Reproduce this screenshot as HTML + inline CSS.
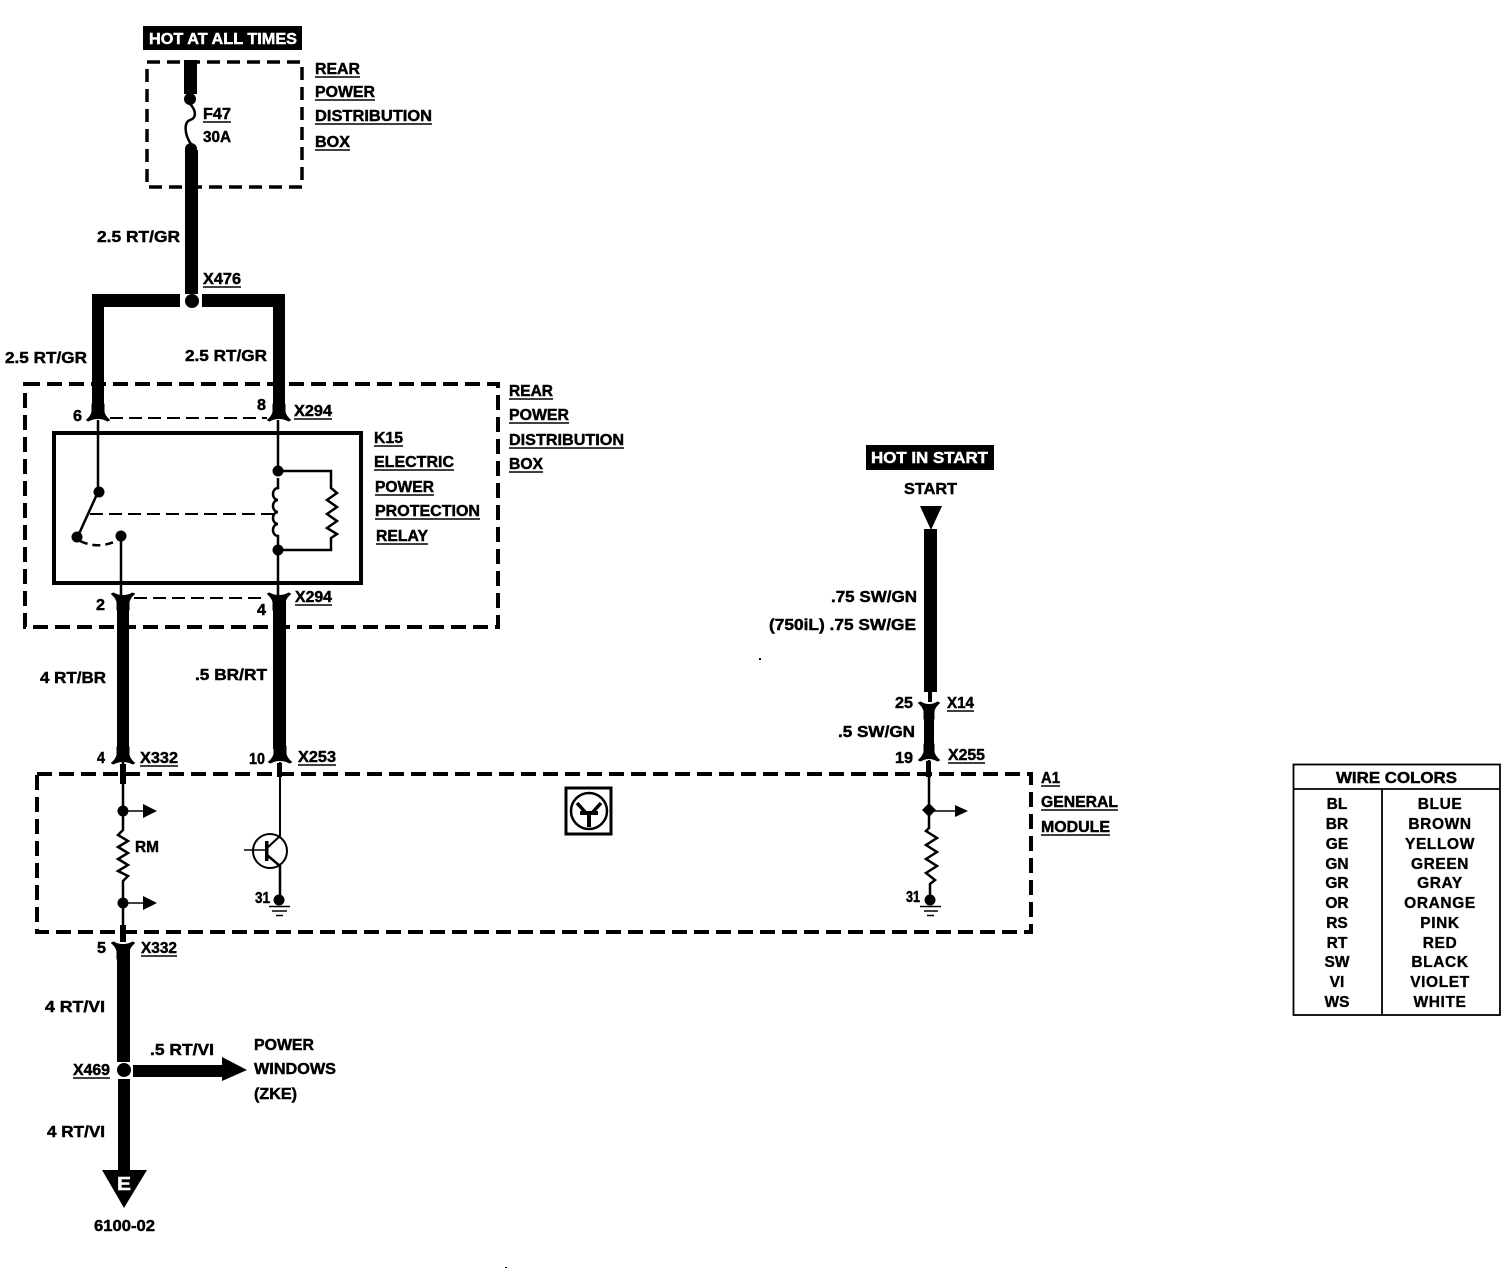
<!DOCTYPE html>
<html><head><meta charset="utf-8"><style>
html,body{margin:0;padding:0;background:#fff}
svg{display:block}
text{font-family:"Liberation Sans",sans-serif;font-weight:bold;font-size:15.5px;fill:#000;stroke:#000;stroke-width:.45}
text.w{fill:#fff;stroke:#fff}
.t text{text-anchor:middle;stroke-width:.35}
.c2 text{letter-spacing:.6px}
.u line{stroke:#000;stroke-width:1.6}
.l{fill:none;stroke:#000;stroke-width:2.5}
.d{fill:none;stroke:#000;stroke-width:4;stroke-dasharray:15 7}
.i{fill:none;stroke:#000;stroke-width:2;stroke-dasharray:13 6}
.k{stroke:#000;stroke-width:1;stroke-linejoin:round}
</style></head><body>
<svg width="1508" height="1280" viewBox="0 0 1508 1280" xmlns="http://www.w3.org/2000/svg">
<rect width="1508" height="1280" fill="#fff"/>

<!-- dashed boxes -->
<rect x="147" y="62" width="155" height="125" class="d" style="stroke-width:3.5;stroke-dasharray:13 7"/>
<rect x="25" y="384" width="473" height="243" class="d"/>
<rect x="37" y="774" width="994" height="158" class="d"/>

<!-- top feed -->
<rect x="143" y="26" width="159" height="24"/>
<text class="w" x="149" y="44" textLength="148" lengthAdjust="spacingAndGlyphs">HOT AT ALL TIMES</text>
<rect x="184" y="60" width="13" height="34"/>
<circle cx="190" cy="99" r="6"/>
<path class="l" d="M190 104C196 110 197 118 190 120C184 122 184 134 191 144"/>
<circle cx="191" cy="149" r="6"/>
<rect x="185" y="150" width="13" height="144"/>
<rect x="92" y="294" width="88" height="13"/>
<rect x="202" y="294" width="83" height="13"/>
<circle cx="192" cy="301" r="7"/>
<rect x="92" y="294" width="12" height="112"/>
<rect x="273" y="294" width="12" height="112"/>

<!-- connectors -->
<path class="k" transform="translate(98,418)" d="M-6-14V-6C-7-2-9 0-11.500 2L-9.500 3C-7 1.500-4 .5 0 .5S7 1.500 9.500 3L11.500 2C9 0 7-2 6-6V-14Z"/>
<path class="k" transform="translate(279,418)" d="M-6-14V-6C-7-2-9 0-11.500 2L-9.500 3C-7 1.500-4 .5 0 .5S7 1.500 9.500 3L11.500 2C9 0 7-2 6-6V-14Z"/>
<path class="k" transform="translate(123,596) scale(1,-1)" d="M-6-14V-6C-7-2-9 0-11.500 2L-9.500 3C-7 1.500-4 .5 0 .5S7 1.500 9.500 3L11.500 2C9 0 7-2 6-6V-14Z"/>
<path class="k" transform="translate(279,596) scale(1,-1)" d="M-6-14V-6C-7-2-9 0-11.500 2L-9.500 3C-7 1.500-4 .5 0 .5S7 1.500 9.500 3L11.500 2C9 0 7-2 6-6V-14Z"/>
<path class="k" transform="translate(123,761)" d="M-6-14V-6C-7-2-9 0-11.500 2L-9.500 3C-7 1.500-4 .5 0 .5S7 1.500 9.500 3L11.500 2C9 0 7-2 6-6V-14Z"/>
<path class="k" transform="translate(280,760)" d="M-6-14V-6C-7-2-9 0-11.500 2L-9.500 3C-7 1.500-4 .5 0 .5S7 1.500 9.500 3L11.500 2C9 0 7-2 6-6V-14Z"/>
<path class="k" transform="translate(123,945) scale(1,-1)" d="M-6-14V-6C-7-2-9 0-11.500 2L-9.500 3C-7 1.500-4 .5 0 .5S7 1.500 9.500 3L11.500 2C9 0 7-2 6-6V-14Z"/>
<path class="k" transform="translate(929,705) scale(1,-1)" d="M-5-14V-6C-6-2-8 0-10.500 2L-8.500 3C-6 1.500-3 .5 0 .5S6 1.500 8.500 3L10.500 2C8 0 6-2 5-6V-14Z"/>
<path class="k" transform="translate(929,758)" d="M-5-14V-6C-6-2-8 0-10.500 2L-8.500 3C-6 1.500-3 .5 0 .5S6 1.500 8.500 3L10.500 2C8 0 6-2 5-6V-14Z"/>

<!-- inner dashed links -->
<path class="i" d="M110 418H267"/>
<path class="i" d="M134 598H266"/>

<!-- relay -->
<rect x="54" y="433" width="307" height="150" fill="none" stroke="#000" stroke-width="4"/>
<path class="l" d="M98 420V490"/>
<circle cx="99" cy="492" r="5.5"/>
<path class="l" d="M98 492L78 536"/>
<circle cx="77" cy="537" r="5.5"/>
<path class="l" d="M80 541Q99 550 118 540" stroke-dasharray="8 5"/>
<circle cx="121" cy="536" r="5.5"/>
<path class="l" d="M121 536V595"/>
<path class="l" d="M278 420V470"/>
<circle cx="278" cy="471" r="5.5"/>
<path class="l" d="M278 471H331V488L337 493L327 500L337 507L327 514L337 521L327 528L337 534L331 538V550H278"/>
<path class="l" d="M278 478V488a5 6 0 0 0 0 12a5 6 0 0 0 0 12a5 6 0 0 0 0 12a5 6 0 0 0 0 12V545"/>
<circle cx="278" cy="550" r="5.5"/>
<path class="l" d="M278 550V595"/>
<path class="i" d="M90 514H275"/>

<!-- lower wires -->
<rect x="117" y="600" width="12" height="150"/>
<rect x="273" y="600" width="13" height="149"/>

<!-- left module branch -->
<path class="l" d="M123 762V830L118 835L128 841L118 847L128 853L118 859L128 865L118 871L128 876L123 881V942"/>
<rect x="120" y="764" width="6" height="20"/>
<circle cx="123" cy="811" r="5.5"/>
<path class="l" d="M123 811H145" style="stroke-width:1.5"/>
<path d="M143 804L157 811L143 818Z"/>
<circle cx="123" cy="903" r="5.5"/>
<path class="l" d="M123 903H145" style="stroke-width:1.5"/>
<path d="M143 896L157 903L143 910Z"/>
<rect x="120" y="925" width="6" height="17"/>

<!-- transistor -->
<path class="l" d="M280 762V836L267 848" style="stroke-width:2"/>
<rect x="277" y="763" width="5" height="14"/>
<circle cx="270" cy="851" r="17" fill="none" stroke="#000" stroke-width="2"/>
<path class="l" d="M244 850H267" style="stroke-width:1.5"/>
<path d="M265 841h3.5v20h-3.5z"/>
<path class="l" d="M267 855L280 866V898"/>
<circle cx="279" cy="900" r="5.5"/>
<path class="l" d="M269 906.500H290M272 911H287M276 915.500H283" style="stroke-width:1.5"/>

<!-- lower feed -->
<rect x="117" y="950" width="13" height="112"/>
<circle cx="124" cy="1070" r="7"/>
<rect x="118" y="1079" width="12" height="95"/>
<path d="M102 1170H147L124 1208Z"/>
<text class="w" x="117" y="1190" textLength="14" lengthAdjust="spacingAndGlyphs" style="font-size:18px">E</text>
<rect x="133" y="1065" width="92" height="12"/>
<path d="M222 1057L247 1070L222 1081Z"/>

<!-- right feed -->
<rect x="866" y="445" width="128" height="25"/>
<text class="w" x="871" y="463" textLength="117" lengthAdjust="spacingAndGlyphs">HOT IN START</text>
<path d="M920 506H942L931 530Z"/>
<rect x="924" y="529" width="13" height="163"/>
<rect x="928" y="690" width="4" height="12"/>
<rect x="924" y="710" width="10" height="36"/>
<path class="l" d="M929 760V810V828L926 831L937 838L926 845L937 852L926 859L937 866L926 873L935 880L930 884V898"/>
<rect x="926" y="761" width="5" height="16"/>
<path d="M929 803L936 810L929 817L922 810Z"/>
<path class="l" d="M929 811H958" style="stroke-width:1.5"/>
<path d="M955 805L968 811L955 817Z"/>
<circle cx="930" cy="900" r="5.500"/>
<path class="l" d="M920 906.500H941M924 911H938M927 915.500H934" style="stroke-width:1.5"/>

<!-- module icon -->
<rect x="566" y="788" width="45" height="46" fill="none" stroke="#000" stroke-width="3"/>
<circle cx="589" cy="811" r="18" fill="none" stroke="#000" stroke-width="2.500"/>
<path d="M577 803L586 813M601 803L592 813" stroke="#000" stroke-width="3.500"/>
<path d="M580 811H598V815H591V827H587V815H580Z"/>

<!-- labels -->
<g>
<text x="315" y="74" textLength="45" lengthAdjust="spacingAndGlyphs">REAR</text>
<text x="315" y="97" textLength="60" lengthAdjust="spacingAndGlyphs">POWER</text>
<text x="315" y="121" textLength="117" lengthAdjust="spacingAndGlyphs">DISTRIBUTION</text>
<text x="315" y="147" textLength="35" lengthAdjust="spacingAndGlyphs">BOX</text>
<text x="203" y="119" textLength="28" lengthAdjust="spacingAndGlyphs">F47</text>
<text x="203" y="142" textLength="28" lengthAdjust="spacingAndGlyphs">30A</text>
<text x="97" y="242" textLength="83" lengthAdjust="spacingAndGlyphs">2.5 RT/GR</text>
<text x="203" y="284" textLength="38" lengthAdjust="spacingAndGlyphs">X476</text>
<text x="5" y="363" textLength="82" lengthAdjust="spacingAndGlyphs">2.5 RT/GR</text>
<text x="185" y="361" textLength="82" lengthAdjust="spacingAndGlyphs">2.5 RT/GR</text>
<text x="509" y="396" textLength="44" lengthAdjust="spacingAndGlyphs">REAR</text>
<text x="509" y="420" textLength="60" lengthAdjust="spacingAndGlyphs">POWER</text>
<text x="509" y="445" textLength="115" lengthAdjust="spacingAndGlyphs">DISTRIBUTION</text>
<text x="509" y="469" textLength="34" lengthAdjust="spacingAndGlyphs">BOX</text>
<text x="73" y="421" textLength="9" lengthAdjust="spacingAndGlyphs">6</text>
<text x="257" y="410" textLength="9" lengthAdjust="spacingAndGlyphs">8</text>
<text x="294" y="416" textLength="38" lengthAdjust="spacingAndGlyphs">X294</text>
<text x="374" y="443" textLength="29" lengthAdjust="spacingAndGlyphs">K15</text>
<text x="374" y="467" textLength="80" lengthAdjust="spacingAndGlyphs">ELECTRIC</text>
<text x="375" y="492" textLength="59" lengthAdjust="spacingAndGlyphs">POWER</text>
<text x="375" y="516" textLength="105" lengthAdjust="spacingAndGlyphs">PROTECTION</text>
<text x="376" y="541" textLength="52" lengthAdjust="spacingAndGlyphs">RELAY</text>
<text x="96" y="610" textLength="9" lengthAdjust="spacingAndGlyphs">2</text>
<text x="257" y="615" textLength="9" lengthAdjust="spacingAndGlyphs">4</text>
<text x="295" y="602" textLength="37" lengthAdjust="spacingAndGlyphs">X294</text>
<text x="40" y="683" textLength="66" lengthAdjust="spacingAndGlyphs">4 RT/BR</text>
<text x="195" y="680" textLength="72" lengthAdjust="spacingAndGlyphs">.5 BR/RT</text>
<text x="97" y="763" textLength="8" lengthAdjust="spacingAndGlyphs">4</text>
<text x="140" y="763" textLength="38" lengthAdjust="spacingAndGlyphs">X332</text>
<text x="249" y="764" textLength="16" lengthAdjust="spacingAndGlyphs">10</text>
<text x="298" y="762" textLength="38" lengthAdjust="spacingAndGlyphs">X253</text>
<text x="135" y="852" textLength="24" lengthAdjust="spacingAndGlyphs">RM</text>
<text x="255" y="903" textLength="15" lengthAdjust="spacingAndGlyphs">31</text>
<text x="97" y="953" textLength="9" lengthAdjust="spacingAndGlyphs">5</text>
<text x="141" y="953" textLength="36" lengthAdjust="spacingAndGlyphs">X332</text>
<text x="45" y="1012" textLength="60" lengthAdjust="spacingAndGlyphs">4 RT/VI</text>
<text x="150" y="1055" textLength="64" lengthAdjust="spacingAndGlyphs">.5 RT/VI</text>
<text x="73" y="1075" textLength="37" lengthAdjust="spacingAndGlyphs">X469</text>
<text x="254" y="1050" textLength="60" lengthAdjust="spacingAndGlyphs">POWER</text>
<text x="254" y="1074" textLength="82" lengthAdjust="spacingAndGlyphs">WINDOWS</text>
<text x="254" y="1099" textLength="43" lengthAdjust="spacingAndGlyphs">(ZKE)</text>
<text x="47" y="1137" textLength="58" lengthAdjust="spacingAndGlyphs">4 RT/VI</text>
<text x="94" y="1231" textLength="61" lengthAdjust="spacingAndGlyphs">6100-02</text>
<text x="904" y="494" textLength="53" lengthAdjust="spacingAndGlyphs">START</text>
<text x="831" y="602" textLength="86" lengthAdjust="spacingAndGlyphs">.75 SW/GN</text>
<text x="769" y="630" textLength="147" lengthAdjust="spacingAndGlyphs">(750iL) .75 SW/GE</text>
<text x="895" y="708" textLength="18" lengthAdjust="spacingAndGlyphs">25</text>
<text x="947" y="708" textLength="27" lengthAdjust="spacingAndGlyphs">X14</text>
<text x="838" y="737" textLength="77" lengthAdjust="spacingAndGlyphs">.5 SW/GN</text>
<text x="895" y="763" textLength="18" lengthAdjust="spacingAndGlyphs">19</text>
<text x="948" y="760" textLength="37" lengthAdjust="spacingAndGlyphs">X255</text>
<text x="906" y="902" textLength="14" lengthAdjust="spacingAndGlyphs">31</text>
<text x="1041" y="783" textLength="19" lengthAdjust="spacingAndGlyphs">A1</text>
<text x="1041" y="807" textLength="77" lengthAdjust="spacingAndGlyphs">GENERAL</text>
<text x="1041" y="832" textLength="69" lengthAdjust="spacingAndGlyphs">MODULE</text>
</g>

<!-- underlines -->
<g class="u">
<line x1="315" x2="360" y1="77" y2="77"/><line x1="315" x2="375" y1="100" y2="100"/><line x1="315" x2="432" y1="124" y2="124"/><line x1="315" x2="350" y1="150" y2="150"/>
<line x1="203" x2="231" y1="122" y2="122"/><line x1="203" x2="241" y1="287" y2="287"/>
<line x1="509" x2="553" y1="399" y2="399"/><line x1="509" x2="569" y1="423" y2="423"/><line x1="509" x2="624" y1="448" y2="448"/><line x1="509" x2="543" y1="472" y2="472"/>
<line x1="294" x2="332" y1="419" y2="419"/><line x1="374" x2="403" y1="446" y2="446"/><line x1="374" x2="454" y1="470" y2="470"/><line x1="375" x2="434" y1="495" y2="495"/><line x1="375" x2="480" y1="519" y2="519"/><line x1="376" x2="428" y1="544" y2="544"/>
<line x1="295" x2="332" y1="605" y2="605"/><line x1="140" x2="178" y1="766" y2="766"/><line x1="298" x2="336" y1="765" y2="765"/><line x1="141" x2="177" y1="956" y2="956"/><line x1="73" x2="110" y1="1078" y2="1078"/>
<line x1="947" x2="974" y1="711" y2="711"/><line x1="948" x2="985" y1="763" y2="763"/>
<line x1="1041" x2="1060" y1="786" y2="786"/><line x1="1041" x2="1118" y1="810" y2="810"/><line x1="1041" x2="1110" y1="835" y2="835"/>
</g>

<!-- wire colours table -->
<rect x="1293.500" y="764.500" width="206.500" height="250.500" fill="none" stroke="#000" stroke-width="1.800"/>
<path d="M1293 789H1500M1382 789V1015" stroke="#000" stroke-width="1.800" fill="none"/>
<text x="1336" y="783" textLength="121" lengthAdjust="spacingAndGlyphs">WIRE COLORS</text>
<g class="t">
<text x="1337" y="809">BL</text>
<text x="1337" y="829">BR</text>
<text x="1337" y="849">GE</text>
<text x="1337" y="869">GN</text>
<text x="1337" y="888">GR</text>
<text x="1337" y="908">OR</text>
<text x="1337" y="928">RS</text>
<text x="1337" y="948">RT</text>
<text x="1337" y="967">SW</text>
<text x="1337" y="987">VI</text>
<text x="1337" y="1007">WS</text>
</g>
<g class="t c2">
<text x="1440" y="809">BLUE</text>
<text x="1440" y="829">BROWN</text>
<text x="1440" y="849">YELLOW</text>
<text x="1440" y="869">GREEN</text>
<text x="1440" y="888">GRAY</text>
<text x="1440" y="908">ORANGE</text>
<text x="1440" y="928">PINK</text>
<text x="1440" y="948">RED</text>
<text x="1440" y="967">BLACK</text>
<text x="1440" y="987">VIOLET</text>
<text x="1440" y="1007">WHITE</text>
</g>

<rect x="759" y="658" width="2" height="2"/>
<rect x="505" y="1267" width="2" height="1"/>
</svg>
</body></html>
